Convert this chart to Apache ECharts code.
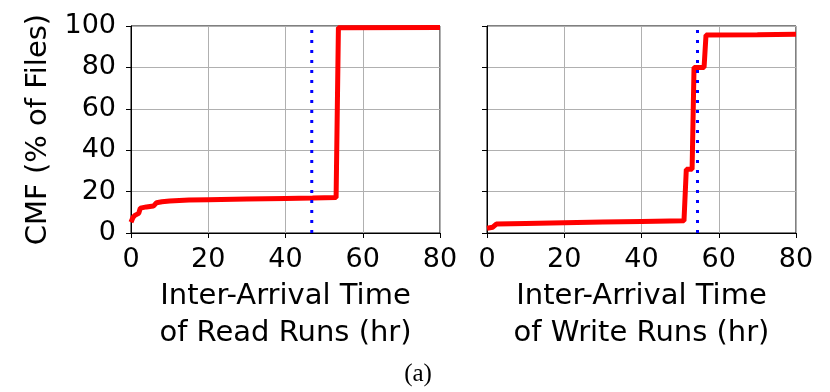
<!DOCTYPE html>
<html>
<head>
<meta charset="utf-8">
<script src="https://cdn.jsdelivr.net/npm/echarts@6/dist/echarts.min.js"></script>
<style>
html,body{margin:0;padding:0;background:#fff;}
#chart{width:830px;height:392px;}
</style>
</head>
<body>
<div id="chart"></div>
<script>
// Data
const readRuns = [[0,5.2],[0.5,7.5],[1,8.5],[2,9.5],[2.4,12],[4,12.6],[5.8,13],[6.6,14.6],[8,15.1],[10,15.5],[15,15.9],[20,16.1],[30,16.4],[40,16.7],[47,16.9],[53.1,17.1],[53.7,99.2],[80,99.3]];
const writeRuns = [[0,2.3],[1.5,2.8],[2.4,4.3],[10,4.6],[20,5],[30,5.3],[40,5.6],[51,5.9],[51.6,30.8],[53.1,30.8],[53.6,80],[56.2,80],[56.7,95.6],[70,95.8],[80,96]];
const readMedian = 46.8;
const writeMedian = 54.5;
const xTicks = [0, 20, 40, 60, 80];
const yTicks = [0, 20, 40, 60, 80, 100];
const xTitles = ['Inter-Arrival Time\nof Read Runs (hr)', 'Inter-Arrival Time\nof Write Runs (hr)'];
const yTitle = 'CMF (% of Files)';
const caption = '(a)';

const FONT = 'DejaVu Sans';
const chart = echarts.init(document.getElementById('chart'), null, {renderer: 'canvas'});

function xAxis(i) {
  return {
    type: 'value', gridIndex: i, min: xTicks[0], max: xTicks[xTicks.length-1], interval: 20,
    name: xTitles[i], nameLocation: 'middle', nameGap: 44,
    nameTextStyle: {fontFamily: FONT, fontSize: 29, color: '#000', lineHeight: 37, verticalAlign: 'top'},
    axisLine: {show: true, lineStyle: {color: '#000', width: 1}},
    axisTick: {show: true, inside: false, length: 5, lineStyle: {color: '#000'}},
    axisLabel: {show: true, fontFamily: FONT, fontSize: 27, color: '#000', margin: 13},
    splitLine: {show: true, lineStyle: {color: '#b0b0b0', width: 1}}
  };
}
function yAxis(i) {
  return {
    type: 'value', gridIndex: i, min: yTicks[0], max: yTicks[yTicks.length-1], interval: 20,
    name: i === 0 ? yTitle : '', nameLocation: 'middle', nameGap: 78, nameRotate: 90,
    nameTextStyle: {fontFamily: FONT, fontSize: 29, color: '#000'},
    axisLine: {show: true, lineStyle: {color: '#000', width: 1}},
    axisTick: {show: true, inside: false, length: 5, lineStyle: {color: '#000'}},
    axisLabel: {show: i === 0, fontFamily: FONT, fontSize: 27, color: '#000', margin: 15},
    splitLine: {show: true, lineStyle: {color: '#b0b0b0', width: 1}}
  };
}

const option = {
  backgroundColor: '#fff',
  animation: false,
  grid: [
    {left: 131, top: 26, width: 309, height: 207, show: true, borderColor: '#000', borderWidth: 1, backgroundColor: 'transparent'},
    {left: 487, top: 26, width: 309, height: 207, show: true, borderColor: '#000', borderWidth: 1, backgroundColor: 'transparent'}
  ],
  xAxis: [xAxis(0), xAxis(1)],
  yAxis: [yAxis(0), yAxis(1)],
  series: [
    {type: 'line', xAxisIndex: 0, yAxisIndex: 0, data: readRuns, showSymbol: false, symbol: 'none',
     lineStyle: {color: '#ff0000', width: 5}, z: 3},
    {type: 'line', xAxisIndex: 0, yAxisIndex: 0, data: [[readMedian, 0], [readMedian, 100]], symbol: 'none',
     lineStyle: {color: '#0000ff', width: 3, type: [3, 7]}, z: 4},
    {type: 'line', xAxisIndex: 1, yAxisIndex: 1, data: writeRuns, showSymbol: false, symbol: 'none',
     lineStyle: {color: '#ff0000', width: 5}, z: 3},
    {type: 'line', xAxisIndex: 1, yAxisIndex: 1, data: [[writeMedian, 0], [writeMedian, 100]], symbol: 'none',
     lineStyle: {color: '#0000ff', width: 3, type: [3, 7]}, z: 4}
  ],
  graphic: [
    {type: 'text', x: 418, y: 374, style: {text: caption, fontFamily: 'Liberation Serif', fontSize: 25, fill: '#000', align: 'center', verticalAlign: 'middle'}}
  ]
};
chart.setOption(option);
</script>
</body>
</html>
